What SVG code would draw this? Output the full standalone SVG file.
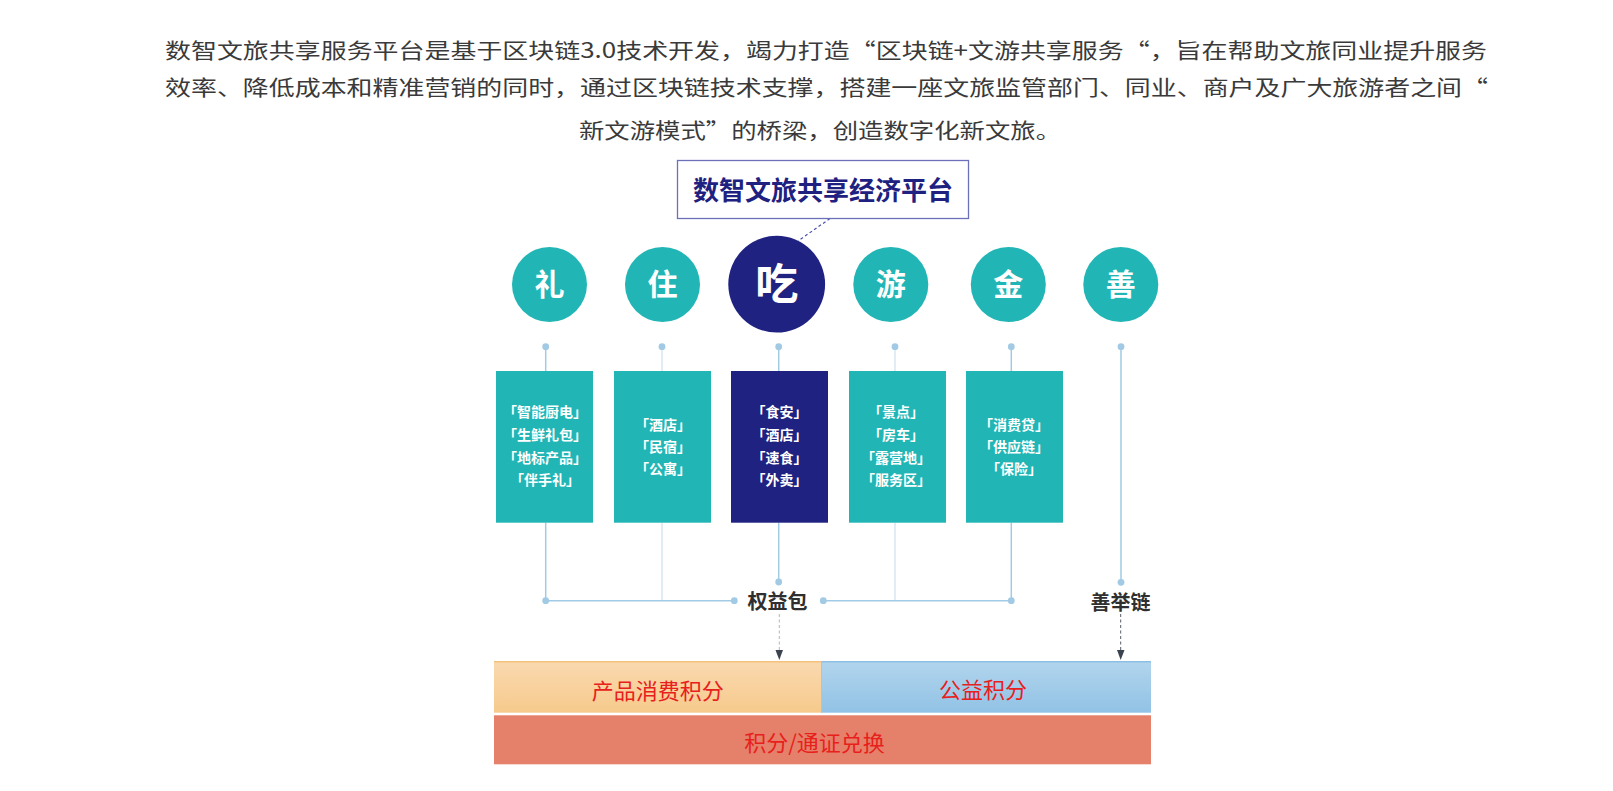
<svg xmlns="http://www.w3.org/2000/svg" width="1613" height="791" viewBox="0 0 1613 791">
<style>
.intro{font-family:"Noto Sans CJK SC","Noto Sans",sans-serif;font-size:21px;fill:#3a3a3a;dominant-baseline:central}
.title{font-family:"Noto Sans CJK SC",sans-serif;font-size:26px;font-weight:700;fill:#1e2180;text-anchor:middle;dominant-baseline:central}
.circ{font-family:"Noto Sans CJK SC",sans-serif;font-weight:700;fill:#fff;text-anchor:middle;dominant-baseline:central}
.teal{fill:#21b6b5}
.navy{fill:#1f2280}
.bx{font-family:"Noto Sans CJK SC",sans-serif;font-size:14px;font-weight:700;fill:#fff;text-anchor:middle;dominant-baseline:central}
.lbl{font-family:"Noto Sans CJK SC",sans-serif;font-size:20px;font-weight:700;fill:#2f2f2f;text-anchor:middle;dominant-baseline:central}
.ln{stroke:#a2cae5;stroke-width:1.5;fill:none}
.lnl{stroke:#cde1ee;stroke-width:1.2;fill:none}
.dot{fill:#a2cae5}
.bar{font-family:"Noto Sans CJK SC",sans-serif;font-size:22px;fill:#e8201c;text-anchor:middle;dominant-baseline:central}
</style>
<defs>
<linearGradient id="gOr" x1="0" y1="0" x2="0" y2="1"><stop offset="0" stop-color="#fad9b0"/><stop offset="1" stop-color="#f6ca8c"/></linearGradient>
<linearGradient id="gBl" x1="0" y1="0" x2="0" y2="1"><stop offset="0" stop-color="#b2d5ed"/><stop offset="1" stop-color="#91c2e5"/></linearGradient>
</defs>

<g id="intro">
<text class="intro" x="165" y="48.5" textLength="1322" lengthAdjust="spacingAndGlyphs">数智文旅共享服务平台是基于区块链3.0技术开发，竭力打造“区块链+文游共享服务“，旨在帮助文旅同业提升服务</text>
<text class="intro" x="165" y="85.5" textLength="1323" lengthAdjust="spacingAndGlyphs">效率、降低成本和精准营销的同时，通过区块链技术支撑，搭建一座文旅监管部门、同业、商户及广大旅游者之间“</text>
<text class="intro" x="579" y="129" textLength="482" lengthAdjust="spacingAndGlyphs">新文游模式”的桥梁，创造数字化新文旅。</text>
</g>

<g id="connectors">
<line x1="830" y1="218.5" x2="798" y2="241" stroke="#4d52ad" stroke-width="1.2" stroke-dasharray="3,2.5"/>
<line class="ln" x1="545.7" y1="346.7" x2="545.7" y2="371"/>
<line class="ln" x1="545.7" y1="522.7" x2="545.7" y2="600.7"/>
<line class="lnl" x1="662" y1="346.7" x2="662" y2="371"/>
<line class="lnl" x1="662" y1="522.7" x2="662" y2="600.7"/>
<line class="ln" x1="778.7" y1="346.7" x2="778.7" y2="371"/>
<line class="ln" x1="778.7" y1="522.7" x2="778.7" y2="582"/>
<line class="lnl" x1="895" y1="346.7" x2="895" y2="371"/>
<line class="lnl" x1="895" y1="522.7" x2="895" y2="600.7"/>
<line class="ln" x1="1011.3" y1="346.7" x2="1011.3" y2="371"/>
<line class="ln" x1="1011.3" y1="522.7" x2="1011.3" y2="600.7"/>
<line class="ln" x1="1121" y1="346.7" x2="1121" y2="582.3"/>
<line class="ln" x1="545.7" y1="600.7" x2="734.3" y2="600.7"/>
<line class="ln" x1="823.3" y1="600.7" x2="1011.3" y2="600.7"/>
<g class="dot">
<circle cx="545.7" cy="346.7" r="3.4"/><circle cx="662" cy="346.7" r="3.4"/><circle cx="778.7" cy="346.7" r="3.4"/>
<circle cx="895" cy="346.7" r="3.4"/><circle cx="1011.3" cy="346.7" r="3.4"/><circle cx="1121" cy="346.7" r="3.4"/>
<circle cx="545.7" cy="600.7" r="3.4"/><circle cx="734.3" cy="600.7" r="3.4"/><circle cx="823.3" cy="600.7" r="3.4"/>
<circle cx="1011.3" cy="600.7" r="3.4"/><circle cx="778.7" cy="582" r="3.4"/><circle cx="1121" cy="582.3" r="3.4"/>
</g>
<line x1="779.3" y1="614" x2="779.3" y2="651" stroke="#b5b5b5" stroke-width="1" stroke-dasharray="3,2.5"/>
<polygon points="775.5,650 783,650 779.3,660" fill="#3c4350"/>
<line x1="1120.7" y1="614" x2="1120.7" y2="651" stroke="#555b66" stroke-width="1" stroke-dasharray="3,2.5"/>
<polygon points="1117,650 1124.5,650 1120.7,660" fill="#3c4350"/>
</g>

<g id="title">
<rect x="677.5" y="160.5" width="291" height="58" fill="#fff" stroke="#6b70b8" stroke-width="1.3"/>
<text class="title" x="823" y="188.5">数智文旅共享经济平台</text>
</g>

<g id="c-li"><circle class="teal" cx="549.5" cy="284.5" r="37.5"/><text class="circ" x="549.5" y="281.5" font-size="30">礼</text></g>
<g id="c-zhu"><circle class="teal" cx="662.5" cy="284.5" r="37.5"/><text class="circ" x="662.5" y="281.5" font-size="30">住</text></g>
<g id="c-chi"><circle class="navy" cx="776.7" cy="284.2" r="48.4"/><text class="circ" x="776.7" y="280.5" font-size="43">吃</text></g>
<g id="c-you"><circle class="teal" cx="890.8" cy="284.5" r="37.5"/><text class="circ" x="890.8" y="281.5" font-size="30">游</text></g>
<g id="c-jin"><circle class="teal" cx="1008.3" cy="284.5" r="37.5"/><text class="circ" x="1008.3" y="281.5" font-size="30">金</text></g>
<g id="c-shan"><circle class="teal" cx="1120.8" cy="284.5" r="37.5"/><text class="circ" x="1120.8" y="281.5" font-size="30">善</text></g>

<g id="b-li"><rect class="teal" x="496" y="371" width="97" height="151.7"/>
<text class="bx" x="545" y="411">「智能厨电」</text><text class="bx" x="545" y="434">「生鲜礼包」</text><text class="bx" x="545" y="456.5">「地标产品」</text><text class="bx" x="545" y="479">「伴手礼」</text></g>
<g id="b-zhu"><rect class="teal" x="614" y="371" width="97" height="151.7"/>
<text class="bx" x="663" y="423.5">「酒店」</text><text class="bx" x="663" y="445.7">「民宿」</text><text class="bx" x="663" y="468.3">「公寓」</text></g>
<g id="b-chi"><rect class="navy" x="731" y="371" width="97" height="151.7"/>
<text class="bx" x="779.5" y="411">「食安」</text><text class="bx" x="779.5" y="434">「酒店」</text><text class="bx" x="779.5" y="456.5">「速食」</text><text class="bx" x="779.5" y="479">「外卖」</text></g>
<g id="b-you"><rect class="teal" x="849" y="371" width="97" height="151.7"/>
<text class="bx" x="896" y="411">「景点」</text><text class="bx" x="896" y="434">「房车」</text><text class="bx" x="896" y="456.5">「露营地」</text><text class="bx" x="896" y="479">「服务区」</text></g>
<g id="b-jin"><rect class="teal" x="966" y="371" width="97" height="151.7"/>
<text class="bx" x="1014" y="423.5">「消费贷」</text><text class="bx" x="1014" y="445.7">「供应链」</text><text class="bx" x="1014" y="468.3">「保险」</text></g>

<g id="l-quanyi"><text class="lbl" x="777.5" y="600.5">权益包</text></g>
<g id="l-shanju"><text class="lbl" x="1120.5" y="601.5">善举链</text></g>

<g id="bar-product"><rect x="494" y="661" width="327" height="51.7" fill="url(#gOr)"/><line x1="494" y1="661.7" x2="821" y2="661.7" stroke="#f4c17f" stroke-width="1.4"/>
<text class="bar" x="657.7" y="688.5">产品消费积分</text></g>
<g id="bar-public"><rect x="821" y="661" width="330" height="51.7" fill="url(#gBl)"/><line x1="821" y1="661.7" x2="1151" y2="661.7" stroke="#8ebfe3" stroke-width="1.4"/><line x1="821.5" y1="661" x2="821.5" y2="712.7" stroke="#b9c9a8" stroke-width="1"/>
<text class="bar" x="983" y="687.5">公益积分</text></g>
<g id="bar-exchange"><rect x="494" y="715.3" width="657" height="49" fill="#e5806a"/>
<text class="bar" x="814.5" y="740.5">积分/通证兑换</text></g>
</svg>
